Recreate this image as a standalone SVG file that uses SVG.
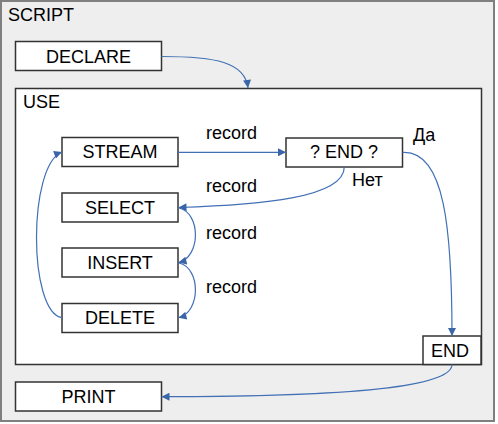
<svg xmlns="http://www.w3.org/2000/svg" width="498" height="424" viewBox="0 0 498 424">
<style>
text{font-family:"Liberation Sans",Arial,sans-serif;font-size:18px;fill:#000}
.c{text-anchor:middle}
.box{fill:#fff;stroke:#333;stroke-width:1.5}
.con{fill:none;stroke:#4170b5;stroke-width:1.2}
</style>
<defs>
<marker id="ah" viewBox="0 0 10 10" refX="10" refY="5" markerWidth="9" markerHeight="8" markerUnits="userSpaceOnUse" orient="auto">
<path d="M0,0 L10,5 L0,10 z" fill="#3a66a8"/>
</marker>
</defs>
<g id="script">
<rect x="1" y="1" width="493" height="420" fill="#eeeeee" stroke="#7f7f7f" stroke-width="2"/>
<text x="8" y="21">SCRIPT</text>
</g>
<g id="declare">
<rect class="box" x="15.5" y="41.5" width="146" height="29"/>
<text class="c" x="88.5" y="62.5">DECLARE</text>
</g>
<g id="use">
<rect class="box" x="15.5" y="88.5" width="466" height="276"/>
<text x="23" y="108">USE</text>
</g>
<g id="stream">
<rect class="box" x="62" y="137.5" width="116" height="29"/>
<text class="c" x="120" y="158.3">STREAM</text>
</g>
<g id="endq">
<rect class="box" x="286" y="138" width="116.5" height="29"/>
<text class="c" x="344" y="158.3">? END ?</text>
</g>
<g id="select">
<rect class="box" x="62" y="193" width="116" height="29"/>
<text class="c" x="120" y="214.3">SELECT</text>
</g>
<g id="insert">
<rect class="box" x="62" y="248" width="116" height="29"/>
<text class="c" x="120" y="269.3">INSERT</text>
</g>
<g id="delete">
<rect class="box" x="62" y="303.5" width="116" height="29"/>
<text class="c" x="120" y="324.3">DELETE</text>
</g>
<g id="end">
<rect class="box" x="423" y="336" width="58" height="28.5"/>
<text class="c" x="450" y="356.5">END</text>
</g>
<g id="print">
<rect class="box" x="15.5" y="382" width="146" height="29"/>
<text class="c" x="88.5" y="402.7">PRINT</text>
</g>
<g id="connectors">
<path class="con" marker-end="url(#ah)" d="M161.5,56.5 C215,56.5 245,62 248,88"/>
<path class="con" marker-end="url(#ah)" d="M178,152.3 L286,152.3"/>
<path class="con" marker-end="url(#ah)" d="M344.3,167 C344,198 260,205 178.5,207.5"/>
<path class="con" marker-end="url(#ah)" d="M179,208 C201,213 201,257 178.5,262.5"/>
<path class="con" marker-end="url(#ah)" d="M179,263 C201,268 201,312 178.5,317.7"/>
<path class="con" marker-end="url(#ah)" d="M62,317.7 C28,312 28,165 62,152"/>
<path class="con" marker-end="url(#ah)" d="M402.5,152.5 C445,150 452,230 452,336"/>
<path class="con" marker-end="url(#ah)" d="M452,364.5 C452,392 300,396.7 161.5,396.7"/>
<text x="206" y="139.3">record</text>
<text x="206" y="191.7">record</text>
<text x="206" y="239">record</text>
<text x="206" y="292.7">record</text>
<text x="413" y="140.7">Да</text>
<text x="352" y="186">Нет</text>
</g>
</svg>
